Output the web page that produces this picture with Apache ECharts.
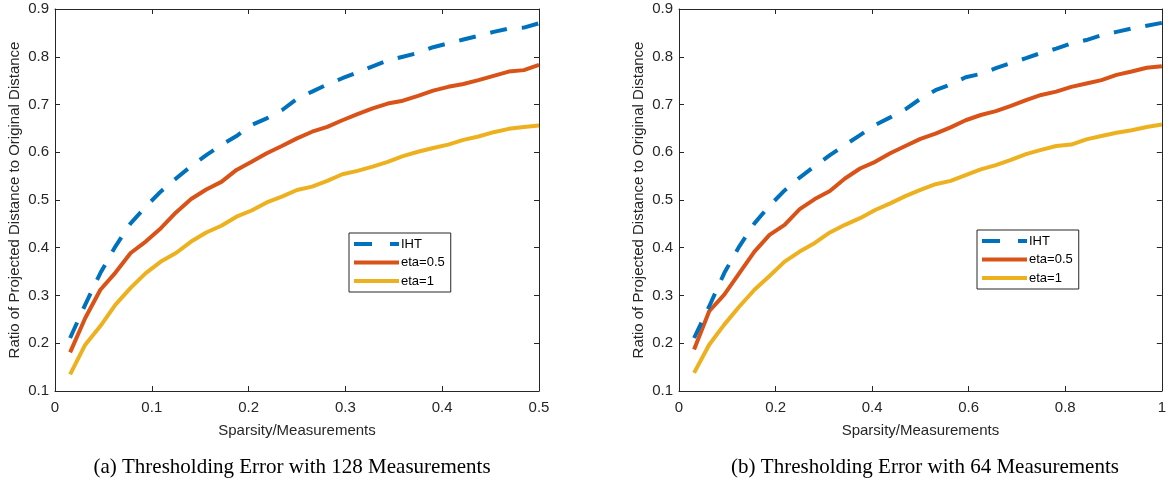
<!DOCTYPE html>
<html>
<head>
<meta charset="utf-8">
<script src="https://cdn.jsdelivr.net/npm/echarts@6/dist/echarts.min.js"></script>
<style>
html,body{margin:0;padding:0;background:#fff;}
#chart{width:1169px;height:482px;}
</style>
</head>
<body>
<div id="chart"></div>
<script>
// ---- data ----
const seriesNames = ['IHT', 'eta=0.5', 'eta=1'];
const captionA = '(a) Thresholding Error with 128 Measurements';
const captionB = '(b) Thresholding Error with 64 Measurements';
const xAxisName = 'Sparsity/Measurements';
const yAxisName = 'Ratio of Projected Distance to Original Distance';

const xLeft = [0.015625,0.03125,0.046875,0.0625,0.078125,0.09375,0.109375,0.125,0.140625,0.15625,0.171875,0.1875,0.203125,0.21875,0.234375,0.25,
  0.265625,0.28125,0.296875,0.3125,0.328125,0.34375,0.359375,0.375,0.390625,0.40625,0.421875,0.4375,0.453125,0.46875,0.484375,0.5];
const leftIHT = [0.211,0.281,0.347,0.403,0.451,0.486,0.518,0.545,0.571,0.594,0.615,0.634,0.657,0.671,0.688,0.712,
  0.727,0.742,0.755,0.767,0.780,0.792,0.800,0.808,0.820,0.828,0.836,0.844,0.852,0.859,0.861,0.870];
const leftEta05 = [0.181,0.253,0.312,0.348,0.389,0.413,0.441,0.474,0.502,0.522,0.538,0.563,0.580,0.598,0.613,0.629,
  0.643,0.653,0.667,0.680,0.692,0.702,0.708,0.718,0.729,0.737,0.743,0.751,0.760,0.769,0.772,0.783];
const leftEta1 = [0.135,0.197,0.236,0.281,0.316,0.347,0.371,0.389,0.413,0.432,0.446,0.465,0.478,0.495,0.507,0.521,
  0.528,0.540,0.554,0.561,0.570,0.580,0.592,0.601,0.609,0.616,0.626,0.633,0.642,0.649,0.653,0.656];

const xRight = [0.03125,0.0625,0.09375,0.125,0.15625,0.1875,0.21875,0.25,0.28125,0.3125,0.34375,0.375,0.40625,0.4375,0.46875,0.5,
  0.53125,0.5625,0.59375,0.625,0.65625,0.6875,0.71875,0.75,0.78125,0.8125,0.84375,0.875,0.90625,0.9375,0.96875,1];
const rightIHT = [0.211,0.277,0.347,0.403,0.451,0.488,0.520,0.547,0.571,0.594,0.615,0.636,0.657,0.673,0.690,0.712,
  0.730,0.742,0.757,0.764,0.776,0.787,0.797,0.808,0.817,0.828,0.835,0.845,0.852,0.859,0.865,0.871];
const rightEta05 = [0.187,0.267,0.302,0.347,0.392,0.427,0.448,0.481,0.502,0.519,0.545,0.566,0.580,0.598,0.613,0.628,
  0.639,0.652,0.667,0.678,0.686,0.697,0.709,0.720,0.727,0.737,0.744,0.751,0.762,0.769,0.777,0.780];
const rightEta1 = [0.138,0.197,0.239,0.277,0.312,0.341,0.371,0.392,0.410,0.432,0.448,0.462,0.479,0.493,0.508,0.521,
  0.533,0.540,0.552,0.564,0.573,0.584,0.596,0.605,0.613,0.616,0.627,0.634,0.641,0.646,0.653,0.658];

// ---- styling ----
const colors = ['#0072BD', '#D95319', '#EDB120'];
const axisColor = '#262626';
const labelFont = 'Liberation Sans';
const legendIcons = ['path://M0,0h18v4h-18z M36,0h9v4h-9z', 'path://M0,0h45v4h-45z', 'path://M0,0h45v4h-45z'];

function zip(xs, ys) { return xs.map((x, i) => [x, ys[i]]); }

function mkX(gridIndex, max, interval, pos, show) {
  return {
    type: 'value', gridIndex, min: 0, max, interval, position: pos,
    name: show ? xAxisName : '', nameLocation: 'middle', nameGap: 32,
    nameTextStyle: { fontFamily: labelFont, fontSize: 15, color: axisColor },
    axisLine: { show: true, onZero: false, lineStyle: { color: axisColor, width: 1 } },
    axisTick: { show: true, inside: true, length: 5, lineStyle: { color: axisColor } },
    axisLabel: { show: show, fontFamily: labelFont, fontSize: 15, color: axisColor, margin: 9 },
    splitLine: { show: false }
  };
}
function mkY(gridIndex, pos, show) {
  return {
    type: 'value', gridIndex, min: 0.1, max: 0.9, interval: 0.1, position: pos,
    name: show ? yAxisName : '', nameLocation: 'middle', nameGap: 33,
    nameTextStyle: { fontFamily: labelFont, fontSize: 15, color: axisColor },
    axisLine: { show: true, onZero: false, lineStyle: { color: axisColor, width: 1 } },
    axisTick: { show: true, inside: true, length: 5, lineStyle: { color: axisColor } },
    axisLabel: { show: show, fontFamily: labelFont, fontSize: 15, color: axisColor, margin: 6 },
    splitLine: { show: false }
  };
}
function mkSeries(name, idx, xs, ys, axisIndex) {
  return {
    name, type: 'line', xAxisIndex: axisIndex, yAxisIndex: axisIndex,
    data: zip(xs, ys), symbol: 'none', showSymbol: false, animation: false,
    lineStyle: { color: colors[idx], width: 4, type: idx === 0 ? [17, 15] : 'solid', cap: 'butt', join: 'round' },
    itemStyle: { color: colors[idx] },
    z: 10 - idx
  };
}
function mkLegend(left, top) {
  return {
    left, top, orient: 'vertical',
    data: seriesNames.map((n, i) => ({ name: n, icon: legendIcons[i], itemStyle: { color: colors[i] } })),
    itemWidth: 45, itemHeight: 4, itemGap: 4.5,
    padding: [4, 6, 4, 5],
    borderColor: axisColor, borderWidth: 1, backgroundColor: '#fff',
    textStyle: { fontFamily: labelFont, fontSize: 13, color: '#000', lineHeight: 14, padding: [0, 0, 0, -3] },
    selectedMode: false
  };
}

const chart = echarts.init(document.getElementById('chart'), null, { renderer: 'canvas' });
chart.setOption({
  animation: false,
  backgroundColor: '#fff',
  grid: [
    { left: 55, top: 9, width: 484, height: 382 },
    { left: 679, top: 9, width: 483, height: 382 }
  ],
  xAxis: [
    mkX(0, 0.5, 0.1, 'bottom', true),
    mkX(1, 1, 0.2, 'bottom', true),
    mkX(0, 0.5, 0.1, 'top', false),
    mkX(1, 1, 0.2, 'top', false)
  ],
  yAxis: [
    mkY(0, 'left', true),
    mkY(1, 'left', true),
    mkY(0, 'right', false),
    mkY(1, 'right', false)
  ],
  legend: [ mkLegend(349, 233), mkLegend(977, 230) ],
  series: [
    mkSeries(seriesNames[0], 0, xLeft, leftIHT, 0),
    mkSeries(seriesNames[1], 1, xLeft, leftEta05, 0),
    mkSeries(seriesNames[2], 2, xLeft, leftEta1, 0),
    mkSeries(seriesNames[0], 0, xRight, rightIHT, 1),
    mkSeries(seriesNames[1], 1, xRight, rightEta05, 1),
    mkSeries(seriesNames[2], 2, xRight, rightEta1, 1)
  ],
  graphic: [
    { type: 'text', x: 292, y: 467, style: { text: captionA, font: '21px "Liberation Serif"', fill: '#000', textAlign: 'center', textVerticalAlign: 'middle' } },
    { type: 'text', x: 925, y: 467, style: { text: captionB, font: '21px "Liberation Serif"', fill: '#000', textAlign: 'center', textVerticalAlign: 'middle' } }
  ]
});
</script>
</body>
</html>
